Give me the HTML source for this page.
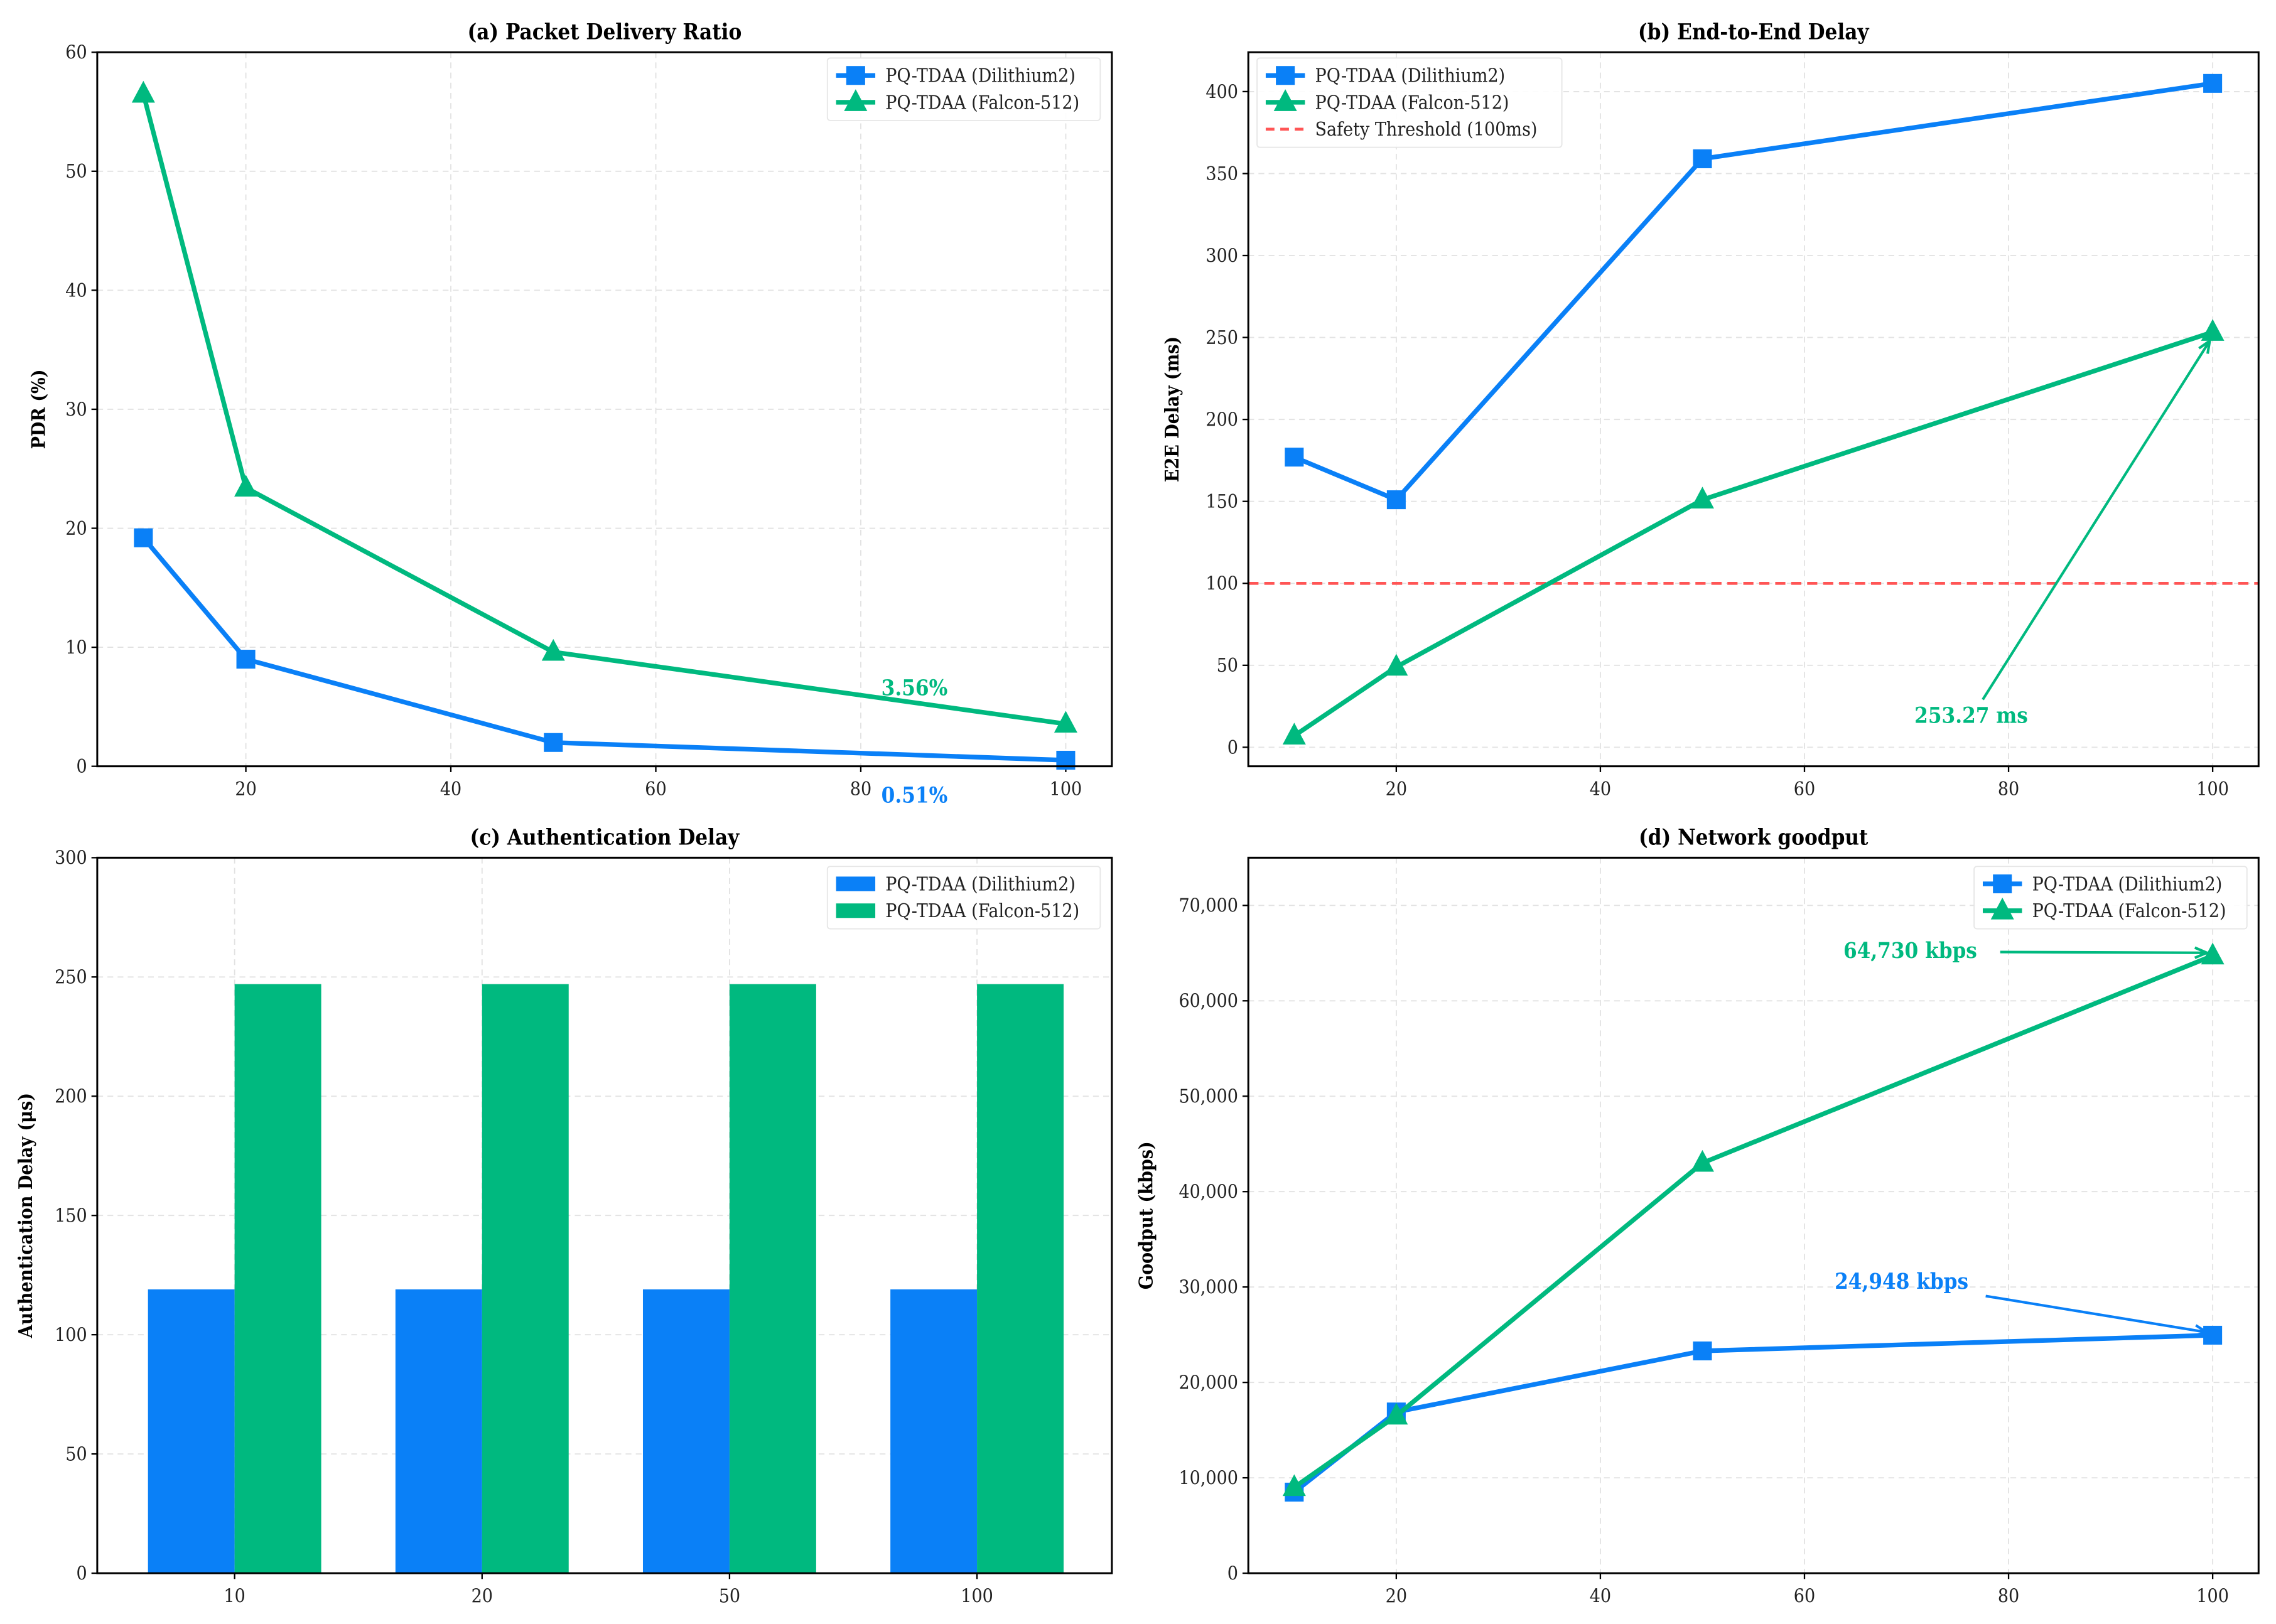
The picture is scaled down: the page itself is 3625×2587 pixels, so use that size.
<!DOCTYPE html>
<html><head><meta charset="utf-8"><style>
html,body{margin:0;padding:0;background:#fff;}
svg{display:block;font-family:"DejaVu Serif Condensed","DejaVu Serif","Liberation Serif",serif;}
</style></head><body>
<svg id="fig" width="3625" height="2587" viewBox="0 0 1568 1119" preserveAspectRatio="none" xmlns="http://www.w3.org/2000/svg"></svg>
<script>
const xNodes = [10, 20, 50, 100];
const pdrDil = [19.2, 9.0, 2.0, 0.51];
const pdrFal = [56.5, 23.4, 9.6, 3.56];
const e2eDil = [177, 151, 359, 405];
const e2eFal = [7, 49, 151, 253.27];
const authDil = [119, 119, 119, 119];
const authFal = [247, 247, 247, 247];
const gpDil = [8500, 16900, 23300, 24948];
const gpFal = [9000, 16500, 43000, 64730];
const xTicks = [20, 40, 60, 80, 100];
const pdrTicks = [0, 10, 20, 30, 40, 50, 60];
const e2eTicks = [0, 50, 100, 150, 200, 250, 300, 350, 400];
const authTicks = [0, 50, 100, 150, 200, 250, 300];
const gpTicks = [0, 10000, 20000, 30000, 40000, 50000, 60000, 70000];
const catLabels = ["10", "20", "50", "100"];
const threshold = 100;

const BLUE = "#0a80f7", GREEN = "#00b97f", RED = "#ff5555";
const svg = document.getElementById('fig');
const NS = "http://www.w3.org/2000/svg";
function mk(tag, attrs, parent, text) {
  const e = document.createElementNS(NS, tag);
  for (const k in attrs) e.setAttribute(k, attrs[k]);
  if (text !== undefined) e.textContent = text;
  (parent || svg).appendChild(e);
  return e;
}
function fmt(v) { return v >= 1000 ? v.toLocaleString('en-US') : String(v); }

function axes(p) {
  const g = mk('g', {});
  
  
  const sx = v => p.x0 + (v - p.xmin) / (p.xmax - p.xmin) * (p.x1 - p.x0);
  const sy = v => p.y1 - (v - p.ymin) / (p.ymax - p.ymin) * (p.y1 - p.y0);
  // grid
  p.yt.forEach(t => {
    const y = sy(t);
    const l = mk('line', {x1: p.x0, x2: p.x1, y1: y, y2: y, stroke: '#e2e2e2', 'stroke-width': 0.8, 'stroke-dasharray': '4,3'}, g);
    
    
    const tk = mk('line', {x1: p.x0 - 4, x2: p.x0, y1: y, y2: y, stroke: '#000', 'stroke-width': 1}, g);
    
    
    const tx = mk('text', {x: p.x0 - 7, y: y + 4.5, 'font-size': 13, 'text-anchor': 'end', fill: '#222'}, g, fmt(t));
    
    
  });
  p.xt.forEach((t, i) => {
    const x = p.cat ? sx(i) : sx(t);
    const l = mk('line', {x1: x, x2: x, y1: p.y0, y2: p.y1, stroke: '#e2e2e2', 'stroke-width': 0.8, 'stroke-dasharray': '4,3'}, g);
    
    
    const tk = mk('line', {x1: x, x2: x, y1: p.y1, y2: p.y1 + 4, stroke: '#000', 'stroke-width': 1}, g);
    
    
    const tx = mk('text', {x: x, y: p.y1 + 20, 'font-size': 13, 'text-anchor': 'middle', fill: '#222'}, g, String(t));
    
    
  });
  const tt = mk('text', {x: (p.x0 + p.x1) / 2, y: p.y0 - 9, 'font-size': 15, 'font-weight': 'bold', 'text-anchor': 'middle'}, g, p.title);
  
  
  const cy = (p.y0 + p.y1) / 2;
  const yl = mk('text', {x: p.ylx, y: cy, 'font-size': 13, 'font-weight': 'bold', 'text-anchor': 'middle', transform: `rotate(-90 ${p.ylx} ${cy})`}, g, p.ylabel);
  
  
  return {g, sx, sy, p};
}
function frame(a) {
  const p = a.p;
  const r = mk('rect', {x: p.x0, y: p.y0, width: p.x1 - p.x0, height: p.y1 - p.y0, fill: 'none', stroke: '#000', 'stroke-width': 1.3}, a.g);
  
  
}
function series(a, xs, ys, color, marker, name) {
  const pts = xs.map((x, i) => [a.sx(x), a.sy(ys[i])]);
  const pl = mk('polyline', {points: pts.map(q => q.join(',')).join(' '), fill: 'none', stroke: color, 'stroke-width': 3.2, 'stroke-linejoin': 'round'}, a.g);
  
  
  pts.forEach(q => {
    let m;
    if (marker === 's') m = mk('rect', {x: q[0] - 6.5, y: q[1] - 6.5, width: 13, height: 13, fill: color}, a.g);
    else m = mk('polygon', {points: `${q[0]},${q[1] - 9} ${q[0] - 8},${q[1] + 6} ${q[0] + 8},${q[1] + 6}`, fill: color}, a.g);
    
    
  });
}
function legend(a, x, y, w, entries) {
  const lg = mk('g', {}, a.g);
  
  
  const r = mk('rect', {x: x, y: y, width: w, height: entries.length * 18.5 + 6, rx: 2, fill: '#fff', 'fill-opacity': 0.9, stroke: '#e6e6e6', 'stroke-width': 0.8}, lg);
  
  
  entries.forEach((e, i) => {
    const cy = y + 12 + i * 18.5;
    const eg = mk('g', {}, lg);
    
    
    if (e.type === 'bar') {
      mk('rect', {x: x + 6, y: cy - 5, width: 27, height: 10, fill: e.color}, eg);
    } else if (e.type === 'dash') {
      mk('line', {x1: x + 6, x2: x + 33, y1: cy, y2: cy, stroke: e.color, 'stroke-width': 2, 'stroke-dasharray': '6,4'}, eg);
    } else {
      mk('line', {x1: x + 6, x2: x + 33, y1: cy, y2: cy, stroke: e.color, 'stroke-width': 3.2}, eg);
      if (e.type === 's') mk('rect', {x: x + 13, y: cy - 6.5, width: 13, height: 13, fill: e.color}, eg);
      else mk('polygon', {points: `${x + 19.5},${cy - 9} ${x + 11.5},${cy + 6} ${x + 27.5},${cy + 6}`, fill: e.color}, eg);
    }
    mk('text', {x: x + 40, y: cy + 4.5, 'font-size': 13, fill: '#222'}, eg, e.label);
  });
}
function label(a, x, y, text, color, name) {
  const t = mk('text', {x: x, y: y, 'font-size': 15, 'font-weight': 'bold', fill: color, 'text-anchor': 'middle'}, a.g, text);
  
  
}
function arrow(a, x1, y1, x2, y2, color) {
  const l = mk('line', {x1, y1, x2, y2, stroke: color, 'stroke-width': 1.8}, a.g);
  
  
  const ang = Math.atan2(y2 - y1, x2 - x1), s = 9;
  const p1 = [x2 - s * Math.cos(ang - 0.4), y2 - s * Math.sin(ang - 0.4)];
  const p2 = [x2 - s * Math.cos(ang + 0.4), y2 - s * Math.sin(ang + 0.4)];
  const h = mk('polyline', {points: `${p1} ${x2},${y2} ${p2}`, fill: 'none', stroke: color, 'stroke-width': 1.8}, a.g);
  
  
}

// (a)
const A = axes({name: 'pdr-chart', x0: 67, x1: 766, y0: 36, y1: 528, xmin: 5.5, xmax: 104.5, ymin: 0, ymax: 60, xt: xTicks, yt: pdrTicks, title: '(a) Packet Delivery Ratio', ylabel: 'PDR (%)', ylx: 31});
series(A, xNodes, pdrDil, BLUE, 's', 'pdr-dilithium');
series(A, xNodes, pdrFal, GREEN, 't', 'pdr-falcon');
label(A, 630, 479, pdrFal[3].toFixed(2) + '%', GREEN, 'falcon-pdr-label');
label(A, 630, 553, pdrDil[3].toFixed(2) + '%', BLUE, 'dilithium-pdr-label');
legend(A, 570, 40, 188, [{type: 's', color: BLUE, label: 'PQ-TDAA (Dilithium2)'}, {type: 't', color: GREEN, label: 'PQ-TDAA (Falcon-512)'}]);
frame(A);

// (b)
const B = axes({name: 'e2e-delay-chart', x0: 860, x1: 1556, y0: 36, y1: 528, xmin: 5.5, xmax: 104.5, ymin: -11.6, ymax: 424, xt: xTicks, yt: e2eTicks, title: '(b) End-to-End Delay', ylabel: 'E2E Delay (ms)', ylx: 812});
{
  const y = B.sy(threshold);
  const l = mk('line', {x1: 860, x2: 1556, y1: y, y2: y, stroke: RED, 'stroke-width': 2, 'stroke-dasharray': '7,4'}, B.g);
  
  
}
series(B, xNodes, e2eDil, BLUE, 's', 'e2e-dilithium');
series(B, xNodes, e2eFal, GREEN, 't', 'e2e-falcon');
label(B, 1358, 498, e2eFal[3].toFixed(2) + ' ms', GREEN, 'falcon-e2e-label');
arrow(B, 1366, 482, B.sx(100) - 2, B.sy(e2eFal[3]) + 6, GREEN);
legend(B, 866, 40, 210, [{type: 's', color: BLUE, label: 'PQ-TDAA (Dilithium2)'}, {type: 't', color: GREEN, label: 'PQ-TDAA (Falcon-512)'}, {type: 'dash', color: RED, label: 'Safety Threshold (100ms)'}]);
frame(B);

// (c)
const C = axes({name: 'auth-delay-chart', cat: true, x0: 67, x1: 766, y0: 591, y1: 1084, xmin: -0.555, xmax: 3.545, ymin: 0, ymax: 300, xt: catLabels, yt: authTicks, title: '(c) Authentication Delay', ylabel: 'Authentication Delay (μs)', ylx: 22});
catLabels.forEach((c, i) => {
  const w = 0.35;
  [[authDil, BLUE, -w, 'bar-dilithium'], [authFal, GREEN, 0, 'bar-falcon']].forEach(([arr, col, off, nm]) => {
    const xa = C.sx(i + off), xb = C.sx(i + off + w);
    const r = mk('rect', {x: xa, y: C.sy(arr[i]), width: xb - xa, height: C.sy(0) - C.sy(arr[i]), fill: col}, C.g);
    
    
  });
});
legend(C, 570, 597, 188, [{type: 'bar', color: BLUE, label: 'PQ-TDAA (Dilithium2)'}, {type: 'bar', color: GREEN, label: 'PQ-TDAA (Falcon-512)'}]);
frame(C);

// (d)
const D = axes({name: 'goodput-chart', x0: 860, x1: 1556, y0: 591, y1: 1084, xmin: 5.5, xmax: 104.5, ymin: 0, ymax: 75000, xt: xTicks, yt: gpTicks, title: '(d) Network goodput', ylabel: 'Goodput (kbps)', ylx: 794});
series(D, xNodes, gpDil, BLUE, 's', 'goodput-dilithium');
series(D, xNodes, gpFal, GREEN, 't', 'goodput-falcon');
label(D, 1316, 660, fmt(gpFal[3]) + ' kbps', GREEN, 'falcon-goodput-label');
arrow(D, 1378, 656, D.sx(100) - 4, D.sy(gpFal[3]) - 2, GREEN);
label(D, 1310, 888, fmt(gpDil[3]) + ' kbps', BLUE, 'dilithium-goodput-label');
arrow(D, 1368, 893, D.sx(100) - 4, D.sy(gpDil[3]) - 2, BLUE);
legend(D, 1360, 597, 188, [{type: 's', color: BLUE, label: 'PQ-TDAA (Dilithium2)'}, {type: 't', color: GREEN, label: 'PQ-TDAA (Falcon-512)'}]);
frame(D);
</script>
</body></html>
